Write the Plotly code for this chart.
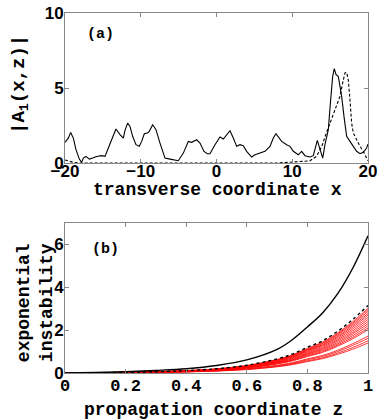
import plotly.graph_objects as go

# panel (a): transverse profile |A1(x,z)|
xa_solid = [-20, -19.56, -19.25, -18.90, -18.55, -18.11, -17.80, -17.58, -17.23, -16.79,
            -16.35, -15.82, -15.16, -14.72, -14.28, -13.71, -13.27, -12.74, -12.30, -12.08,
            -11.73, -11.42, -11.07, -10.63, -10.19, -9.88, -9.53, -9.13, -8.87, -8.43,
            -7.99, -7.46, -6.80, -6.14, -5.48, -5.04, -4.38, -3.72, -3.28, -2.62,
            -2.18, -1.65, -1.21, -0.86, -0.20, 0.46, 0.90, 1.34, 1.78, 2.22,
            2.66, 3.10, 3.54, 3.98, 4.64, 5.08, 5.74, 6.40, 7.06, 7.50,
            7.85, 8.16, 8.60, 9.26, 9.70, 10.14, 10.80, 11.24, 11.68, 12.34,
            12.78, 13.31, 13.66, 14.02, 14.32, 14.76, 15.07, 15.34, 15.55, 15.78,
            16.08, 16.52, 16.83, 17.18, 17.62, 18.06, 18.50, 18.94, 19.38, 19.82, 20.0]
ya_solid = [1.38, 1.66, 2.04, 1.66, 0.89, 0.26, 0.04, 0.33, 0.44, 0.26,
            0.33, 0.44, 0.49, 0.44, 1.00, 1.66, 2.27, 1.89, 1.66, 2.18,
            2.66, 2.44, 1.78, 1.22, 1.11, 1.44, 1.95, 2.00, 2.11, 2.55,
            2.22, 1.33, 0.33, 0.26, 0.18, 0.15, 0.66, 1.44, 1.38, 1.55,
            1.33, 0.77, 0.62, 0.62, 1.22, 1.73, 1.60, 1.89, 2.15, 1.67,
            1.11, 1.22, 1.15, 0.78, 0.40, 0.55, 0.67, 0.78, 1.11, 1.67,
            1.95, 1.73, 1.44, 1.22, 1.11, 0.78, 0.55, 0.78, 0.49, 0.40,
            0.49, 1.51, 0.89, 0.33, 1.22, 2.22, 4.22, 5.78, 6.29, 5.89,
            5.78, 4.44, 3.11, 1.78, 1.44, 1.11, 0.78, 0.62, 0.71, 1.00, 1.26]

xa_dash = [-20, -19.5, -19, -18.5, -18, 8, 9.7, 11.0, 12.3, 13.2, 13.9, 14.5, 15.2, 15.9,
           16.3, 16.65, 16.96, 17.18, 17.4, 17.62, 17.84, 18.06, 18.5, 18.94, 19.38, 19.82, 20.0]
ya_dash = [0.2, 0.12, 0.06, 0.02, 0, 0, 0.04, 0.1, 0.14, 0.44, 1.11, 2.0, 3.0, 3.89,
           4.44, 5.33, 6.0, 6.04, 5.55, 4.22, 2.66, 2.0, 1.55, 1.11, 0.78, 0.33, 0.15]

# panel (b): exponential instability vs propagation coordinate z
zb = [0, 0.1, 0.2, 0.3, 0.4, 0.5, 0.6, 0.7, 0.75, 0.8, 0.85, 0.9, 0.95, 1.0]
black_solid = [0, 0.02, 0.06, 0.12, 0.2, 0.35, 0.61, 1.1, 1.55, 2.15, 2.8, 3.7, 4.9, 6.4]
black_dash = [0, 0.01, 0.03, 0.06, 0.11, 0.2, 0.36, 0.66, 0.88, 1.2, 1.5, 1.95, 2.5, 3.15]
red_curves = [
    [0, 0.01, 0.03, 0.06, 0.11, 0.19, 0.35, 0.63, 0.84, 1.15, 1.44, 1.87, 2.40, 3.02],
    [0, 0.01, 0.03, 0.06, 0.10, 0.19, 0.34, 0.62, 0.82, 1.12, 1.40, 1.83, 2.34, 2.95],
    [0, 0.01, 0.03, 0.05, 0.10, 0.18, 0.33, 0.60, 0.80, 1.09, 1.37, 1.78, 2.28, 2.87],
    [0, 0.01, 0.03, 0.05, 0.10, 0.18, 0.32, 0.58, 0.78, 1.06, 1.32, 1.72, 2.21, 2.78],
    [0, 0.01, 0.03, 0.05, 0.09, 0.17, 0.31, 0.57, 0.75, 1.03, 1.29, 1.67, 2.14, 2.70],
    [0, 0.01, 0.02, 0.05, 0.09, 0.17, 0.30, 0.54, 0.73, 0.99, 1.24, 1.61, 2.06, 2.60],
    [0, 0.01, 0.02, 0.05, 0.09, 0.16, 0.29, 0.52, 0.70, 0.95, 1.19, 1.55, 1.98, 2.50],
    [0, 0.01, 0.02, 0.05, 0.08, 0.15, 0.27, 0.50, 0.67, 0.91, 1.14, 1.49, 1.90, 2.40],
    [0, 0.01, 0.02, 0.04, 0.08, 0.15, 0.26, 0.48, 0.64, 0.88, 1.10, 1.42, 1.83, 2.30],
    [0, 0.01, 0.02, 0.04, 0.08, 0.14, 0.25, 0.46, 0.61, 0.84, 1.05, 1.36, 1.75, 2.20],
    [0, 0.01, 0.02, 0.04, 0.07, 0.13, 0.24, 0.44, 0.59, 0.80, 1.00, 1.30, 1.67, 2.10],
    [0, 0.01, 0.02, 0.04, 0.07, 0.13, 0.23, 0.42, 0.56, 0.77, 0.96, 1.25, 1.60, 2.02],
    [0, 0.01, 0.02, 0.03, 0.06, 0.11, 0.20, 0.36, 0.48, 0.66, 0.82, 1.06, 1.37, 1.72],
    [0, 0.01, 0.02, 0.03, 0.06, 0.10, 0.19, 0.34, 0.45, 0.62, 0.77, 1.00, 1.29, 1.62],
    [0, 0.00, 0.01, 0.03, 0.05, 0.10, 0.17, 0.31, 0.42, 0.57, 0.71, 0.93, 1.19, 1.50],
    [0, 0.00, 0.01, 0.03, 0.05, 0.09, 0.16, 0.29, 0.39, 0.53, 0.67, 0.87, 1.11, 1.40],
]

MONO = "Liberation Mono, Courier New, monospace"
SANS = "Liberation Sans, Arial, sans-serif"

fig = go.Figure()

# ── panel (a) ──
fig.add_trace(go.Scatter(x=xa_solid, y=ya_solid, mode="lines",
                         line=dict(color="black", width=1.1), xaxis="x", yaxis="y"))
fig.add_trace(go.Scatter(x=xa_dash, y=ya_dash, mode="lines",
                         line=dict(color="black", width=1.1, dash="3px,2px"), xaxis="x", yaxis="y"))

# ── panel (b) ──
for rc in red_curves:
    fig.add_trace(go.Scatter(x=zb, y=rc, mode="lines", line=dict(color="red", width=0.8, shape="spline"),
                             xaxis="x2", yaxis="y2"))
fig.add_trace(go.Scatter(x=zb, y=black_dash, mode="lines",
                         line=dict(color="black", width=1.4, dash="dot", shape="spline"),
                         xaxis="x2", yaxis="y2"))
fig.add_trace(go.Scatter(x=zb, y=black_solid, mode="lines",
                         line=dict(color="black", width=1.4, shape="spline"), xaxis="x2", yaxis="y2"))

axis_common = dict(showgrid=False, zeroline=False, showline=True, mirror="ticks", automargin=False,
                   linecolor="#888", linewidth=1, ticks="inside", ticklen=4, tickcolor="#888")

fig.update_layout(
    width=382, height=419,
    margin=dict(l=65, r=14, t=13, b=46),
    paper_bgcolor="white", plot_bgcolor="white",
    showlegend=False,
    xaxis=dict(domain=[0, 1], anchor="y", range=[-20, 20], tickvals=[-20, -10, 0, 10, 20],
               ticklabelstandoff=-7,
               tickfont=dict(family=SANS, size=17, color="black", weight="bold"), **axis_common),
    yaxis=dict(domain=[0.5833, 1], anchor="x", range=[0, 10], tickvals=[0, 5, 10],
               ticklabelstandoff=-3,
               tickfont=dict(family=SANS, size=17, color="black", weight="bold"), **axis_common),
    xaxis2=dict(domain=[0, 1], anchor="y2", range=[0, 1], tickvals=[0, 0.2, 0.4, 0.6, 0.8, 1],
                ticktext=["0", "0.2", "0.4", "0.6", "0.8", "1"], ticklabelstandoff=-3,
                tickfont=dict(family=MONO, size=17, color="black", weight="bold"), **axis_common),
    yaxis2=dict(domain=[0, 0.4167], anchor="x2", range=[0, 7], tickvals=[0, 2, 4, 6],
                ticklabelstandoff=-3,
                tickfont=dict(family=SANS, size=17, color="black", weight="bold"), **axis_common),
)

title_font = dict(family=MONO, size=18, color="black", weight="bold")
fig.add_annotation(xref="paper", yref="paper", x=0.502, y=0.508, text="transverse coordinate x",
                   showarrow=False, font=title_font, xanchor="center", yanchor="middle")
fig.add_annotation(xref="paper", yref="paper", x=0.49, y=-0.103, text="propagation coordinate z",
                   showarrow=False, font=title_font, xanchor="center", yanchor="middle")
fig.add_annotation(xref="paper", yref="paper", x=-0.1485, y=0.8, text="|A<sub>1</sub>(x,z)|",
                   showarrow=False, font=dict(family=MONO, size=19, color="black", weight="bold"),
                   textangle=-90, xanchor="center", yanchor="middle")
fig.add_annotation(xref="paper", yref="paper", x=-0.099, y=0.194, text="exponential<br>instability",
                   showarrow=False, font=title_font, textangle=-90, xanchor="center", yanchor="middle")

label_font = dict(family=MONO, size=15, color="black", weight="bold")
fig.add_annotation(xref="x", yref="y", x=-15.25, y=8.55, text="(a)", showarrow=False, font=label_font)
fig.add_annotation(xref="x2", yref="y2", x=0.132, y=5.78, text="(b)", showarrow=False, font=label_font)

# page body has a default 8px margin; drop it so the figure fills the window
fig.write_html("out.html", config={"displayModeBar": False},
               post_script="document.body.style.margin='0';")
